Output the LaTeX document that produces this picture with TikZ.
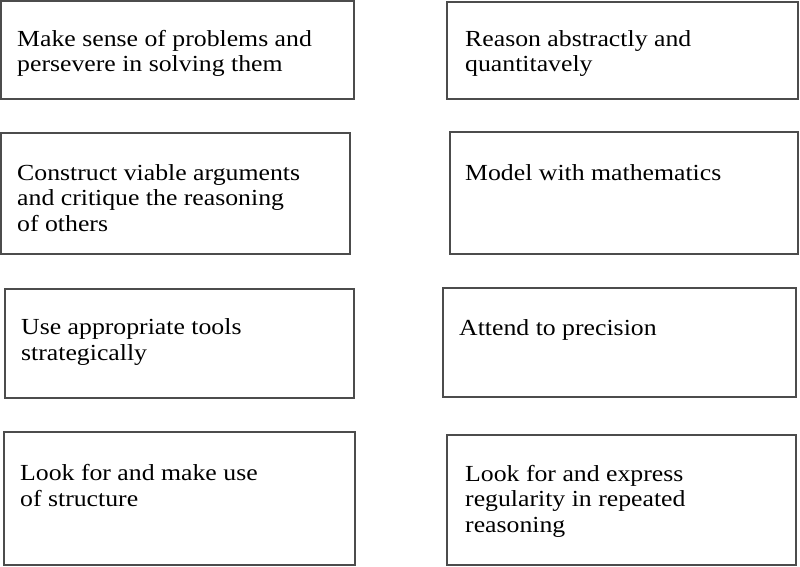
\documentclass[tikz,border=0pt]{standalone}
\usepackage{fontspec}
\setmainfont{Liberation Serif}[FakeStretch=1.12]
\begin{document}
\begin{tikzpicture}[x=1pt,y=-1pt,
  box/.style={draw=black!70, line width=1.3pt, fill=none},
  txt/.style={anchor=base west, inner sep=0pt, align=left, text=black,
    font=\fontsize{23}{25.3}\selectfont}]
\useasboundingbox (0,0) rectangle (800,567);
\draw[box] (1,1) rectangle (354,99) node[pos=0.5,inner sep=0] (b1) {};
\draw[box] (447,2) rectangle (798,99) node[pos=0.5,inner sep=0] (b2) {};
\draw[box] (1,133) rectangle (350,254) node[pos=0.5,inner sep=0] (b3) {};
\draw[box] (450,132) rectangle (798,254) node[pos=0.5,inner sep=0] (b4) {};
\draw[box] (5,289) rectangle (354,398) node[pos=0.5,inner sep=0] (b5) {};
\draw[box] (443,288) rectangle (796,397) node[pos=0.5,inner sep=0] (b6) {};
\draw[box] (4,432) rectangle (355,565) node[pos=0.5,inner sep=0] (b7) {};
\draw[box] (447,435) rectangle (796,565) node[pos=0.5,inner sep=0] (b8) {};
\node[txt] (t1) at (17,72) {Make sense of problems and\\persevere in solving them};
\node[txt] (t2) at (465,72) {Reason abstractly and\\quantitavely};
\node[txt] (t3) at (17,231) {Construct viable arguments\\and critique the reasoning\\of others};
\node[txt] (t4) at (465,180) {Model with mathematics};
\node[txt] (t5) at (21,360) {Use appropriate tools\\strategically};
\node[txt] (t6) at (459,335) {Attend to precision};
\node[txt] (t7) at (20,506) {Look for and make use\\of structure};
\node[txt] (t8) at (465,532) {Look for and express\\regularity in repeated\\reasoning};
\end{tikzpicture}
\end{document}
